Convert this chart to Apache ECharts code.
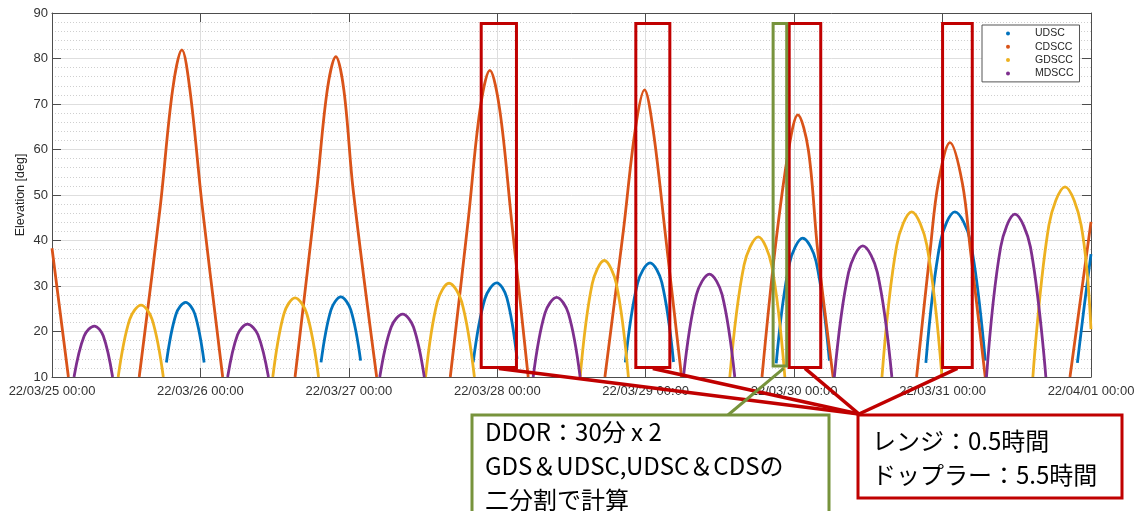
<!DOCTYPE html>
<html>
<head>
<meta charset="utf-8">
<script src="https://cdn.jsdelivr.net/npm/echarts@6/dist/echarts.min.js"></script>
<style>
  html, body { margin: 0; padding: 0; background: #ffffff; }
  #chart { width: 1134px; height: 511px; }
</style>
</head>
<body>
<div id="chart"></div>
<script>
// Time axis: hours since 22/03/25 00:00, one tick per day.
const tickLabels = [
  '22/03/25 00:00', '22/03/26 00:00', '22/03/27 00:00', '22/03/28 00:00',
  '22/03/29 00:00', '22/03/30 00:00', '22/03/31 00:00', '22/04/01 00:00'
];

// Station passes: [hours, elevation deg] per pass.
const udscPasses = [
  [[18.5, 13.2], [20.05, 23.8], [21.6, 26.4], [23.1, 23.8], [24.6, 13.2]],
  [[43.5, 13.2], [45.1, 24.7], [46.7, 27.6], [48.3, 24.8], [49.9, 13.6]],
  [[68.1, 13.2], [70.0, 27.2], [71.9, 30.7], [73.55, 27.4], [75.2, 14.0]],
  [[92.7, 13.2], [94.7, 30.7], [96.7, 35.1], [98.6, 30.8], [100.5, 13.3]],
  [[117.1, 13.0], [119.25, 35.0], [121.4, 40.5], [123.55, 35.4], [125.7, 13.6]],
  [[141.3, 13.1], [143.65, 39.7], [146.0, 46.3], [148.45, 40.1], [150.9, 13.6]],
  [[165.8, 13.1], [166.9, 25.5], [168, 37.0]]
];

const cdsccPasses = [
  [[0, 38.3], [2.65, 10]],
  [[14.1, 10], [17.5, 47.4], [19.5, 73.1], [21.0, 81.9], [22.3, 73.1], [24.3, 47.4], [27.6, 10]],
  [[39.3, 10], [42.8, 51.1], [44.5, 73], [45.9, 80.4], [47.2, 73], [48.7, 51.1], [52.5, 10]],
  [[64.4, 10], [67.3, 44.5], [69.2, 68.7], [70.8, 77.4], [72.4, 68.7], [74.3, 44.5], [77.0, 10]],
  [[89.4, 10], [92.4, 42.3], [94.3, 64.3], [95.8, 73.1], [97.2, 64.3], [99.1, 42.3], [101.8, 10]],
  [[114.8, 10], [116.9, 37.9], [119.1, 59.9], [120.6, 67.6], [122.3, 59.9], [123.8, 37.9], [126.3, 10]],
  [[139.8, 10], [142.0, 37.9], [143.3, 52.6], [145.2, 61.5], [147.2, 52.6], [148.5, 37.9], [150.9, 10]],
  [[164.6, 10], [168, 44.1]]
];

const gdsccPasses = [
  [[10.7, 10], [12.55, 22.6], [14.4, 25.8], [16.2, 22.6], [18.0, 10]],
  [[35.7, 10], [37.5, 23.9], [39.3, 27.4], [41.2, 23.9], [43.1, 10]],
  [[60.4, 10], [62.3, 26.5], [64.2, 30.6], [66.25, 26.5], [68.3, 10]],
  [[85.4, 10], [87.35, 30.5], [89.3, 35.6], [91.25, 30.5], [93.2, 10]],
  [[109.6, 10], [111.9, 34.6], [114.2, 40.8], [116.35, 34.6], [118.5, 10]],
  [[134.2, 10], [136.6, 39.0], [139.0, 46.3], [141.45, 39.0], [143.9, 10]],
  [[158.6, 10], [161.2, 43.4], [163.8, 51.8], [166.4, 43.4], [168, 20.5]]
];

const mdsccPasses = [
  [[3.56, 10], [5.2, 19.0], [6.85, 21.2], [8.3, 19.0], [9.8, 10]],
  [[28.4, 10], [30.0, 19.3], [31.6, 21.6], [33.3, 19.3], [35.0, 10]],
  [[53.0, 10], [54.85, 21.0], [56.7, 23.8], [58.45, 21.0], [60.2, 10]],
  [[77.8, 10], [79.7, 24.0], [81.6, 27.5], [83.5, 24.0], [85.4, 10]],
  [[102.1, 10], [104.2, 28.1], [106.3, 32.6], [108.35, 28.1], [110.4, 10]],
  [[126.5, 10], [128.8, 33.0], [131.1, 38.8], [133.45, 33.0], [135.8, 10]],
  [[151.1, 10], [153.4, 38.6], [155.7, 45.8], [158.2, 38.6], [160.7, 10]]
];

// Planned operation windows (hours) and their elevation extent.
const rangeDopplerWindows = [[69.4, 75.1], [94.4, 99.9], [119.2, 124.3], [144.0, 148.8]];
const ddorWindow = [116.6, 118.8];
const windowElevation = [12.1, 87.7];

const stationNames = ['UDSC', 'CDSCC', 'GDSCC', 'MDSCC'];
const stationColors = ['#0072BD', '#D95319', '#EDB120', '#7E2F8E'];

const ddorText = 'DDOR：30分 x 2\nGDS＆UDSC,UDSC＆CDSの\n二分割で計算';
const rangeText = 'レンジ：0.5時間\nドップラー：5.5時間';

const RED = '#C00000';
const GREEN = '#77933C';
const AXIS = '#4d4d4d';

// Join passes into one line, breaking it between passes.
function joinPasses(passes) {
  const out = [];
  passes.forEach((p, i) => {
    if (i > 0) out.push([p[0][0], null]);
    p.forEach(pt => out.push(pt));
  });
  return out;
}

const chart = echarts.init(document.getElementById('chart'), null, { renderer: 'canvas' });

const allPasses = [udscPasses, cdsccPasses, gdsccPasses, mdsccPasses];

const stationSeries = stationNames.map((name, i) => ({
  name: name,
  type: 'line',
  xAxisIndex: 0,
  yAxisIndex: 0,
  data: joinPasses(allPasses[i]),
  smooth: 0.35,
  showSymbol: false,
  symbol: 'none',
  connectNulls: false,
  clip: true,
  color: stationColors[i],
  lineStyle: { width: 2.8, color: stationColors[i] },
  animation: false
}));

const windowAreas = rangeDopplerWindows.map(w => ([
  { xAxis: w[0], yAxis: windowElevation[1], itemStyle: { borderColor: RED } },
  { xAxis: w[1], yAxis: windowElevation[0] }
]));
windowAreas.push([
  { xAxis: ddorWindow[0], yAxis: windowElevation[1], itemStyle: { borderColor: GREEN } },
  { xAxis: ddorWindow[1], yAxis: windowElevation[0] + 0.3 }
]);

const option = {
  backgroundColor: '#ffffff',
  animation: false,
  textStyle: { fontFamily: 'Liberation Sans, Arial, sans-serif' },
  grid: { left: 52, top: 13, right: 43, bottom: 134, containLabel: false, outerBoundsMode: 'none' },
  legend: {
    data: stationNames,
    orient: 'vertical',
    left: 982,
    top: 25,
    icon: 'circle',
    itemWidth: 44,
    itemHeight: 4,
    itemGap: 0.3,
    padding: [2, 6, 2, 24],
    backgroundColor: '#ffffff',
    borderColor: '#555555',
    borderWidth: 1,
    textStyle: { fontSize: 10.5, lineHeight: 13, color: '#262626', padding: 0 }
  },
  xAxis: [
    {
      type: 'value', min: 0, max: 168, interval: 24, position: 'bottom',
      axisLine: { show: true, onZero: false, lineStyle: { color: AXIS, width: 1 } },
      axisTick: { show: true, inside: true, length: 9, lineStyle: { color: AXIS } },
      axisLabel: {
        show: true, margin: 8, fontSize: 13, color: '#333333',
        formatter: v => tickLabels[Math.round(v / 24)] || ''
      },
      splitLine: { show: true, lineStyle: { color: '#dedede', width: 1 } }
    },
    {
      type: 'value', min: 0, max: 168, interval: 24, position: 'top',
      axisLine: { show: true, onZero: false, lineStyle: { color: AXIS, width: 1 } },
      axisTick: { show: true, inside: true, length: 9, lineStyle: { color: AXIS } },
      axisLabel: { show: false },
      splitLine: { show: false }
    }
  ],
  yAxis: [
    {
      type: 'value', min: 10, max: 90, interval: 10, position: 'left',
      name: 'Elevation [deg]', nameLocation: 'middle', nameGap: 25, nameRotate: 90,
      nameMoveOverlap: false,
      nameTextStyle: { fontSize: 12.5, color: '#262626' },
      axisLine: { show: true, onZero: false, lineStyle: { color: AXIS, width: 1 } },
      axisTick: { show: true, inside: true, length: 9, lineStyle: { color: AXIS } },
      axisLabel: { show: true, margin: 4, fontSize: 13, color: '#333333' },
      splitLine: { show: true, lineStyle: { color: '#dedede', width: 1 } },
      minorTick: { show: false, splitNumber: 5 },
      minorSplitLine: { show: true, lineStyle: { color: '#cfcfcf', width: 1, type: [1, 2] } }
    },
    {
      type: 'value', min: 10, max: 90, interval: 10, position: 'right',
      axisLine: { show: true, onZero: false, lineStyle: { color: AXIS, width: 1 } },
      axisTick: { show: true, inside: true, length: 9, lineStyle: { color: AXIS } },
      axisLabel: { show: false },
      splitLine: { show: false }
    }
  ],
  series: stationSeries.concat([{
    name: 'windows',
    type: 'line',
    xAxisIndex: 0,
    yAxisIndex: 0,
    data: [],
    silent: true,
    animation: false,
    markArea: {
      silent: true,
      z: 10,
      itemStyle: { color: 'rgba(0,0,0,0)', borderWidth: 3, borderColor: RED },
      emphasis: { disabled: true },
      label: { show: false },
      data: windowAreas
    }
  }])
};

chart.setOption(option);

// Callout boxes and their leader lines to the window frames.
const toPx = (x, y) => chart.convertToPixel({ xAxisIndex: 0, yAxisIndex: 0 }, [x, y]);
const graphics = [];
const redCorner = [859, 414];
rangeDopplerWindows.forEach(w => {
  const p = toPx((w[0] + w[1]) / 2, windowElevation[0]);
  graphics.push({
    type: 'line', z: 20,
    shape: { x1: p[0], y1: p[1] + 1, x2: redCorner[0], y2: redCorner[1] },
    style: { stroke: RED, lineWidth: 3.5 }
  });
});
const gp = toPx(ddorWindow[1] - 0.5, windowElevation[0]);
graphics.push({
  type: 'line', z: 20,
  shape: { x1: gp[0], y1: gp[1] + 1, x2: 728, y2: 415 },
  style: { stroke: GREEN, lineWidth: 3 }
});
// DDOR note
graphics.push({
  type: 'rect', z: 21,
  shape: { x: 472, y: 415, width: 357, height: 120 },
  style: { fill: '#ffffff', stroke: GREEN, lineWidth: 3 }
});
graphics.push({
  type: 'text', z: 22, x: 485, y: 415,
  style: {
    text: ddorText, fill: '#000000', fontSize: 24, lineHeight: 34,
    fontFamily: 'Noto Sans CJK JP', verticalAlign: 'top', align: 'left'
  }
});
// Range / Doppler note
graphics.push({
  type: 'rect', z: 21,
  shape: { x: 858, y: 415, width: 264, height: 83 },
  style: { fill: '#ffffff', stroke: RED, lineWidth: 3 }
});
graphics.push({
  type: 'text', z: 22, x: 872, y: 424,
  style: {
    text: rangeText, fill: '#000000', fontSize: 24, lineHeight: 34,
    fontFamily: 'Noto Sans CJK JP', verticalAlign: 'top', align: 'left'
  }
});

chart.setOption({ graphic: graphics });
</script>
</body>
</html>
